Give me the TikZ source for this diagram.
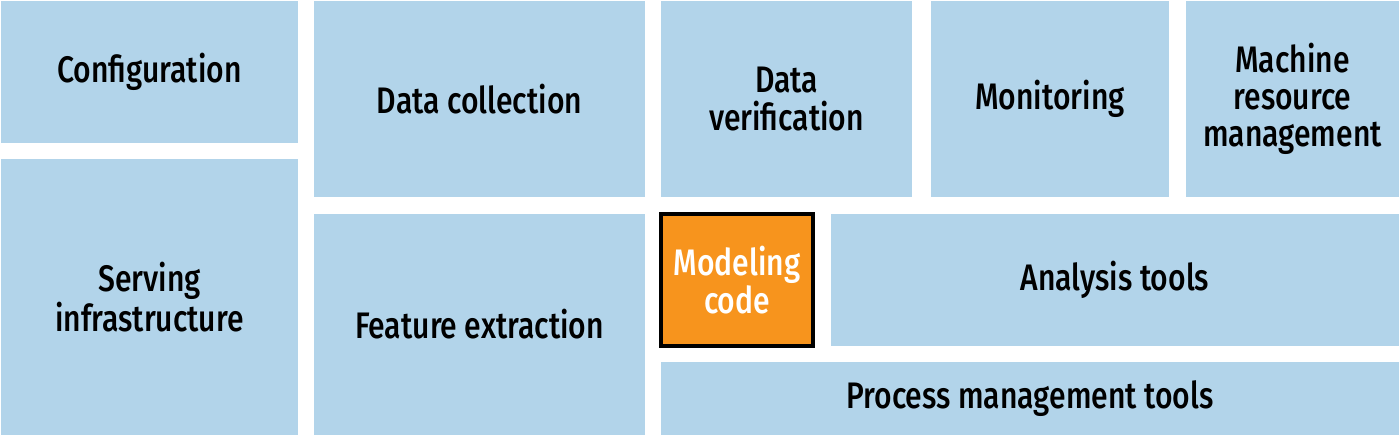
\documentclass[tikz,border=0pt]{standalone}
\usepackage{fontspec}
\setmainfont{Fira Sans}[UprightFont={* Medium}, FakeStretch=0.815]
\usepackage{xcolor}
\usetikzlibrary{positioning}

\definecolor{paleblue}{RGB}{178,212,234}
\definecolor{hotorange}{RGB}{247,148,29}

\begin{document}
\begin{tikzpicture}[blk/.style={fill=paleblue, draw=none, align=center, inner sep=0pt,
		font=\fontsize{21}{21.2}\selectfont},
		hot/.style={blk, fill=hotorange, draw=black, line width=0.08cm, text=white}]
		\useasboundingbox (0,0) rectangle (28,-8.72);

		\node[blk, minimum width=5.94cm, minimum height=2.84cm] (conf) at (2.99,-1.44) {Configuration};
		\node[blk, minimum width=5.94cm, minimum height=5.52cm] (serv) at (2.99,-5.94) {Serving\\infrastructure};

		\node[blk, minimum width=6.62cm, minimum height=3.92cm] (dcol) at (9.59,-1.98) {Data collection};
		\node[blk, minimum width=6.62cm, minimum height=4.42cm] (feat) at (9.59,-6.49) {Feature extraction};

		\node[blk, minimum width=5.02cm, minimum height=3.92cm] (dver) at (15.73,-1.98) {Data\\verification};
		\node[blk, minimum width=4.76cm, minimum height=3.92cm] (mon) at (21.00,-1.98) {Monitoring};
		\node[blk, minimum width=4.26cm, minimum height=3.92cm] (mach) at (25.85,-1.98) {Machine\\resource\\management};

		\node[hot, minimum width=3.04cm, minimum height=2.64cm] (model) at (14.74,-5.60) {Modeling\\code};
		\node[blk, minimum width=11.36cm, minimum height=2.64cm] (ana) at (22.30,-5.60) {Analysis tools};
		\node[blk, minimum width=14.76cm, minimum height=1.46cm] (proc) at (20.60,-7.97) {Process management tools};
	\end{tikzpicture}
\end{document}
